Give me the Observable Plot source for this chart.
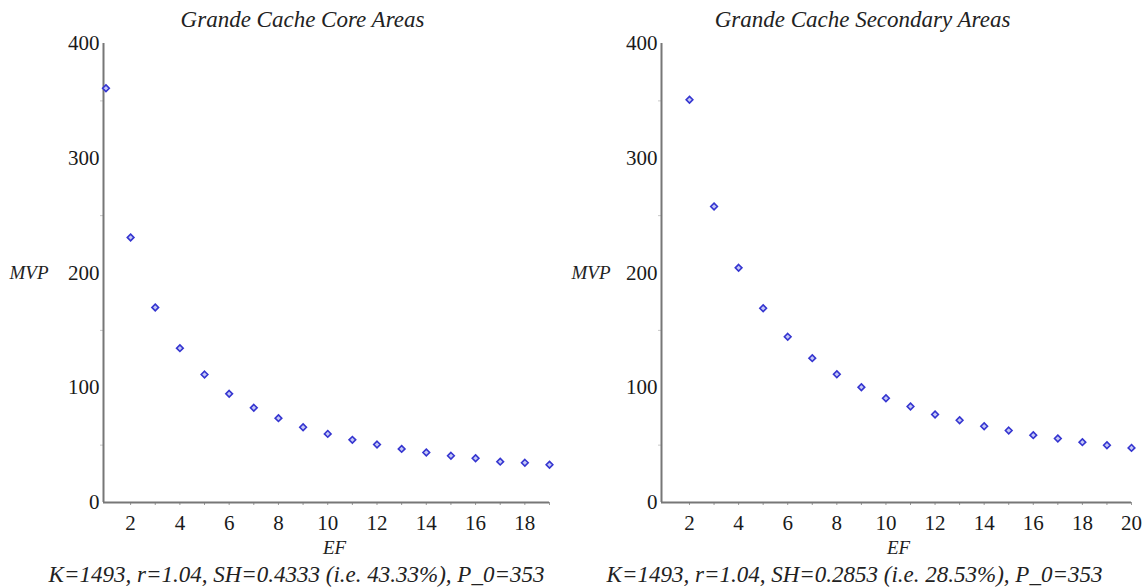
<!DOCTYPE html>
<html><head><meta charset="utf-8">
<script src="https://cdn.jsdelivr.net/npm/d3@7"></script>
<script src="https://cdn.jsdelivr.net/npm/@observablehq/plot@0.6"></script>
<style>
body{margin:0;background:#fff;}
#wrap{display:flex;width:1148px;height:587px;}
</style></head><body><div id="wrap"></div>
<script>
// Core areas
const efCore = [1,2,3,4,5,6,7,8,9,10,11,12,13,14,15,16,17,18,19];
const mvpCore = [361,231,170,134.5,111.5,94.7,82.5,73.5,65.6,59.8,54.6,50.5,46.7,43.6,40.7,38.6,35.6,34.6,32.9];
// Secondary areas
const efSecondary = [2,3,4,5,6,7,8,9,10,11,12,13,14,15,16,17,18,19,20];
const mvpSecondary = [351,258,204.5,169.3,144.4,125.8,111.8,100.5,90.9,83.7,76.7,71.7,66.5,62.7,58.7,55.8,52.6,49.9,47.6];

const titles = ["Grande Cache Core Areas", "Grande Cache Secondary Areas"];
const captions = ["K=1493, r=1.04, SH=0.4333 (i.e. 43.33%), P_0=353",
                  "K=1493, r=1.04, SH=0.2853 (i.e. 28.53%), P_0=353"];
const xLabel = "EF";
const yLabel = "MVP";
const yTicks = [0,100,200,300,400];
const yMinorTicks = [50,150,250,350];
const xTicksCore = [2,4,6,8,10,12,14,16,18];
const xMinorCore = [2,3,4,5,6,7,8,9,10,11,12,13,14,15,16,17,18,19];
const xTicksSecondary = [2,4,6,8,10,12,14,16,18,20];
const xMinorSecondary = [2,3,4,5,6,7,8,9,10,11,12,13,14,15,16,17,18,19,20];

const serifFamily = "'Liberation Serif', Tinos, 'Times New Roman', Times, 'Nimbus Roman', 'Nimbus Roman No9 L', FreeSerif, 'DejaVu Serif', 'Noto Serif', serif";

function panel(o) {
  const data = o.ef.map((x, i) => ({ef: x, mvp: o.mvp[i]}));
  const svg = Plot.plot({
    width: 574, height: 587,
    marginTop: 43, marginBottom: 85, marginLeft: o.marginLeft, marginRight: o.marginRight,
    x: {domain: o.xDomain},
    y: {domain: [0, 400]},
    style: {color: "#1a1a1a", background: "#fff", overflow: "visible", fontFamily: serifFamily},
    marks: [
      Plot.axisY(yMinorTicks, {tickSize: 3, stroke: "#c8c8c8", text: null, label: null}),
      Plot.axisY(yTicks, {tickSize: 0, tickPadding: 4, label: null, fontSize: 21, fontFamily: serifFamily}),
      Plot.axisX(o.xMinor, {tickSize: 3, stroke: "#999", text: null, label: null}),
      Plot.axisX(o.xTicks, {tickSize: 0, tickPadding: 13, label: null, fontSize: 21, fontFamily: serifFamily}),
      Plot.ruleY([0], {stroke: "#777", strokeWidth: 2}),
      Plot.ruleX([o.xDomain[0]], {stroke: "#777", strokeWidth: 2}),
      Plot.dot(data, {x: "ef", y: "mvp", symbol: "diamond2", r: 3, stroke: "#3535d0", strokeWidth: 1.6, fill: "#c4c8f6"}),
      Plot.text([o.title], {frameAnchor: "top", lineAnchor: "bottom", dy: -17, dx: o.titleDx, fontSize: 23, fontStyle: "italic", fontFamily: serifFamily, fill: "#222"}),
      Plot.text([xLabel], {frameAnchor: "bottom", lineAnchor: "bottom", dy: 51, dx: o.efDx, fontSize: 19, fontStyle: "italic", fontFamily: serifFamily, fill: "#222"}),
      Plot.text([o.caption], {frameAnchor: "bottom", lineAnchor: "bottom", dy: 79, dx: o.captionDx, fontSize: 23, fontStyle: "italic", fontFamily: serifFamily, fill: "#222"}),
      Plot.text([200], {y: d => d, text: () => yLabel, frameAnchor: "left", dx: o.mvpDx, textAnchor: "end", fontSize: 19, fontStyle: "italic", fontFamily: serifFamily, fill: "#222"})
    ]
  });
  return svg;
}

const wrap = document.getElementById("wrap");
wrap.append(panel({
  ef: efCore, mvp: mvpCore, title: titles[0], caption: captions[0],
  xDomain: [0.9, 19], xTicks: xTicksCore, xMinor: xMinorCore,
  marginLeft: 103, marginRight: 25, titleDx: -24, captionDx: -30, efDx: 8, mvpDx: -55
}));
wrap.append(panel({
  ef: efSecondary, mvp: mvpSecondary, title: titles[1], caption: captions[1],
  xDomain: [0.86, 20], xTicks: xTicksSecondary, xMinor: xMinorSecondary,
  marginLeft: 87, marginRight: 17, titleDx: -34, captionDx: -42, efDx: 2, mvpDx: -51
}));
</script>
</body></html>
